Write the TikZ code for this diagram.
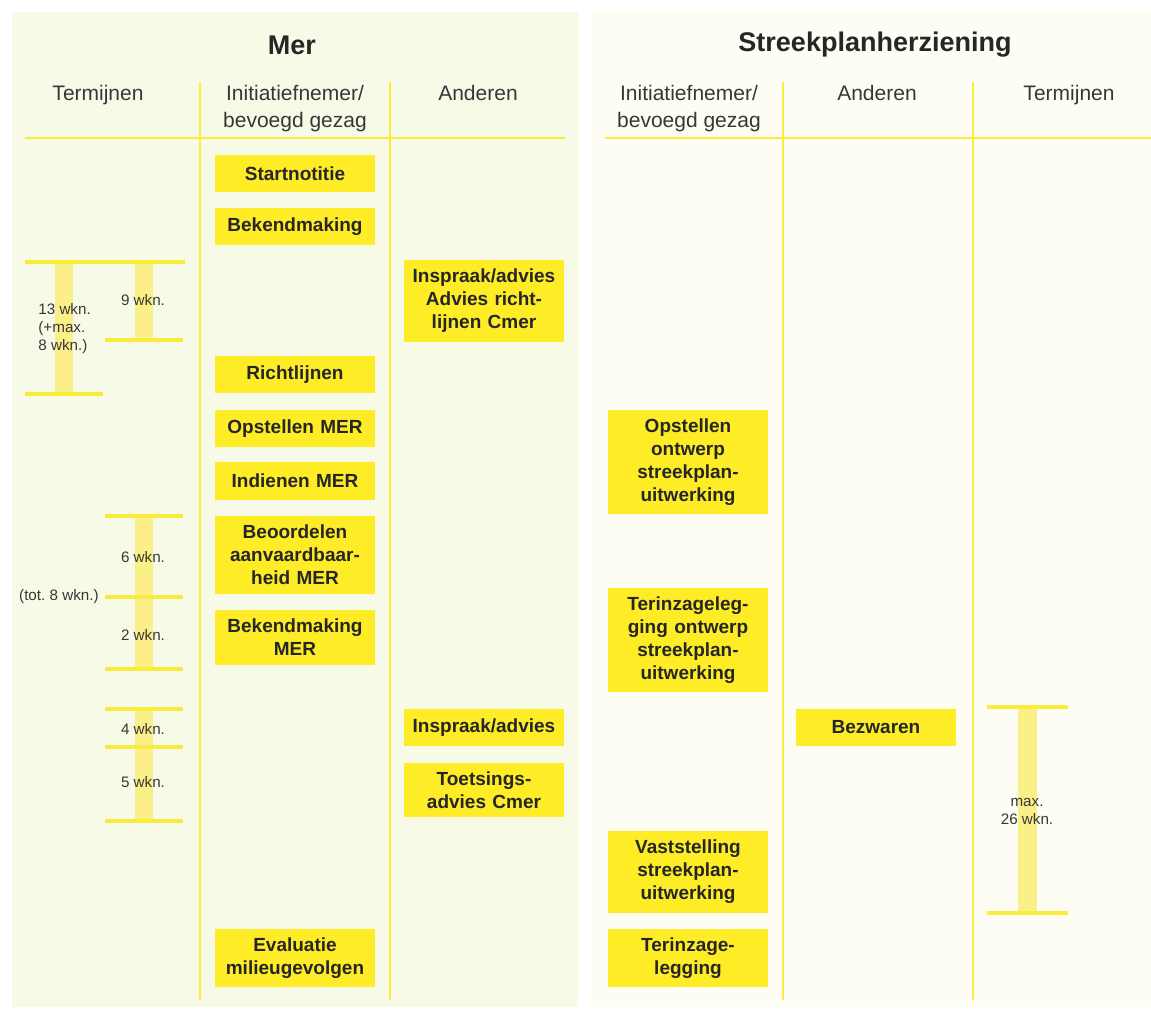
\documentclass[tikz,border=0pt]{standalone}
\usepackage{fontspec}
\setmainfont{Liberation Sans}
\usetikzlibrary{positioning}
\frenchspacing

\definecolor{boxyellow}{RGB}{253,236,38}
\definecolor{lineyellow}{RGB}{250,236,60}
\definecolor{baryellow}{RGB}{250,240,135}
\definecolor{panelleft}{RGB}{248,250,232}
\definecolor{panelright}{RGB}{253,253,243}
\definecolor{textgray}{RGB}{55,55,55}

\tikzset{
    stepbox/.style={fill=boxyellow, text width=72pt, inner xsep=4pt, inner ysep=4.5pt,
        minimum height=18.5pt, align=center, text=black!85,
        font=\fontsize{9.5}{11.5}\selectfont\bfseries},
    colhead/.style={align=center, text=textgray, font=\fontsize{10.5}{13.5}\selectfont},
    paneltitle/.style={text=black!85, font=\fontsize{13.5}{15}\selectfont\bfseries},
    termtext/.style={text=textgray, inner sep=1pt, font=\fontsize{7.6}{9}\selectfont},
    gridline/.style={draw=lineyellow, line width=1.3pt},
    tick/.style={draw=lineyellow, line width=1.6pt}
}

\begin{document}
\begin{tikzpicture}[x=0.5pt, y=-0.5pt]

\useasboundingbox (0,0) rectangle (1151,1010);

%-------------------------------
% 1) Panels
%-------------------------------
\fill[white] (0,0) rectangle (1151,1010);
\fill[panelleft] (12,12) rectangle (578,1007);
\fill[panelright] (591,12) rectangle (1151,1007);

%-------------------------------
% 2) Titles and column heads
%-------------------------------
\node[paneltitle] (mer) at (292,45) {Mer};
\node[paneltitle] (streek) at (875,45) {Streekplanherziening};

\node[colhead, anchor=north] (hTermL) at (98,78) {Termijnen};
\node[colhead, anchor=north] (hInitL) at (295,78) {Initiatiefnemer/\\bevoegd gezag};
\node[colhead, anchor=north] (hAndL) at (478,78) {Anderen};
\node[colhead, anchor=north] (hInitR) at (689,78) {Initiatiefnemer/\\bevoegd gezag};
\node[colhead, anchor=north] (hAndR) at (877,78) {Anderen};
\node[colhead, anchor=north] (hTermR) at (1069,78) {Termijnen};

%-------------------------------
% 3) Grid lines
%-------------------------------
\draw[gridline] (25,138) -- (565,138);
\draw[gridline] (605,138) -- (1151,138);
\foreach \x in {200,390,783,973}
    \draw[gridline] (\x,82) -- (\x,1000);

%-------------------------------
% 4) Termijnen bars (left)
%-------------------------------
\fill[baryellow] (55,262) rectangle (73,394);
\fill[baryellow] (135,262) rectangle (153,340);
\fill[baryellow] (135,516) rectangle (153,669);
\fill[baryellow] (135,709) rectangle (153,821);

\draw[tick] (25,262) -- (185,262);
\draw[tick] (25,394) -- (103,394);
\foreach \y in {340,516,597,669,709,747,821}
    \draw[tick] (105,\y) -- (183,\y);

\node[termtext, anchor=west, align=left] (t13) at (36,329) {13 wkn.\\(+max.\\8 wkn.)};
\node[termtext] (t9) at (143,300) {9 wkn.};
\node[termtext] (t6) at (143,557) {6 wkn.};
\node[termtext, anchor=east] (t8) at (101,597) {(tot. 8 wkn.)};
\node[termtext] (t2) at (143,635) {2 wkn.};
\node[termtext] (t4) at (143,729) {4 wkn.};
\node[termtext] (t5) at (143,782) {5 wkn.};

%-------------------------------
% 5) Termijnen bar (right)
%-------------------------------
\fill[baryellow] (1018,707) rectangle (1037,913);
\foreach \y in {707,913}
    \draw[tick] (987,\y) -- (1068,\y);
\node[termtext, align=center] (t26) at (1027,811) {max.\\26 wkn.};

%-------------------------------
% 6) Mer: Initiatiefnemer / Anderen
%-------------------------------
\node[stepbox] (start) at (295,173.5) {Startnotitie};
\node[stepbox] (bekend) at (295,226.5) {Bekendmaking};
\node[stepbox] (inspraakA) at (484,301) {Inspraak/advies\\Advies richt-\\lijnen Cmer};
\node[stepbox] (richt) at (295,375) {Richtlijnen};
\node[stepbox] (opstMer) at (295,428.5) {Opstellen MER};
\node[stepbox] (indMer) at (295,481) {Indienen MER};
\node[stepbox] (beoord) at (295,555) {Beoordelen\\aanvaardbaar-\\heid MER};
\node[stepbox] (bekendMer) at (295,637.5) {Bekendmaking\\MER};
\node[stepbox] (inspraakB) at (484,727.5) {Inspraak/advies};
\node[stepbox] (toets) at (484,790) {Toetsings-\\advies Cmer};
\node[stepbox] (eval) at (295,958) {Evaluatie\\milieugevolgen};

%-------------------------------
% 7) Streekplanherziening
%-------------------------------
\node[stepbox] (opstOntw) at (688,462) {Opstellen\\ontwerp\\streekplan-\\uitwerking};
\node[stepbox] (terOntw) at (688,640) {Terinzageleg-\\ging ontwerp\\streekplan-\\uitwerking};
\node[stepbox] (bezw) at (876,727) {Bezwaren};
\node[stepbox] (vastst) at (688,872) {Vaststelling\\streekplan-\\uitwerking};
\node[stepbox] (terLeg) at (688,958) {Terinzage-\\legging};

\end{tikzpicture}
\end{document}
